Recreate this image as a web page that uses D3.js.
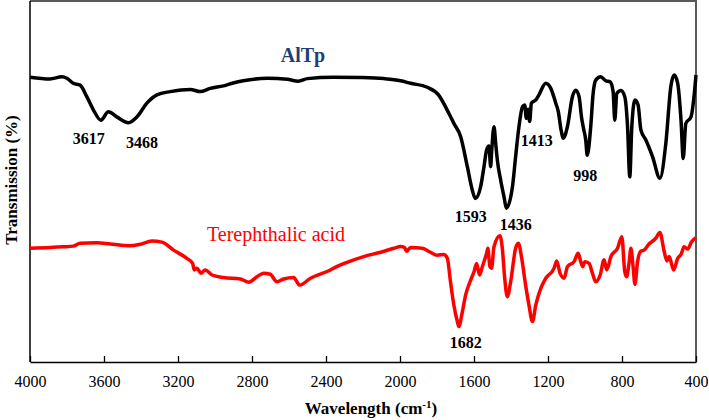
<!DOCTYPE html>
<html>
<head>
<meta charset="utf-8">
<script src="https://cdn.jsdelivr.net/npm/d3@7"></script>
<style>
  body { margin: 0; background: #fff; }
  text { font-family: "Liberation Serif", "Times New Roman", serif; }
</style>
</head>
<body>
<svg width="709" height="420"></svg>
<script>
// IR spectra, wavenumber (cm-1) vs transmission (arbitrary %)
var alWave = [4000,3892,3828,3801,3766,3729,3693,3657,3617,3576,3531,3468,3422,3368,3314,3242,3134,3080,3026,2954,
  2901,2847,2717,2609,2549,2501,2360,2214,2089,1997,1943,1853,1792,1736,1709,1672,1636,1609,1593,1564,
  1546,1532,1519,1510,1505,1492,1483,1474,1456,1438,1425,1392,1375,1357,1338,1326,1317,1308,1299,1290,
  1266,1249,1212,1185,1158,1144,1131,1117,1095,1068,1050,1032,1019,1008,996,988,969,956,942,915,
  888,864,848,839,828,806,785,770,758,747,730,713,698,671,635,595,563,536,518,499,
  481,469,455,427,409,400];
var alTrans = [78.9,78.4,79.0,78.6,77.2,76.7,73.5,69.8,67.0,69.3,67.9,66.3,67.9,71.7,74.0,74.9,75.5,74.9,75.8,76.5,
  77.3,77.9,78.6,78.3,77.8,78.5,78.9,78.8,78.5,77.9,77.2,76.1,74.0,68.9,66.1,62.4,54.1,47.6,45.3,48.6,
  54.1,58.7,59.8,54.1,57.9,65.2,60.7,56.0,50.4,45.8,42.6,48.6,56.9,65.2,70.7,71.2,67.5,70.0,66.6,71.7,
  72.6,74.0,77.2,75.8,71.7,69.3,64.8,62.0,65.2,73.5,75.3,73.5,67.9,64.7,61.5,57.3,65.2,74.4,78.1,79.0,
  77.9,77.6,74.9,67.0,74.4,75.2,73.5,65.2,51.3,65.2,72.6,71.2,64.3,61.5,56.9,50.9,60.6,76.3,79.5,77.2,
  67.0,56.4,66.1,67.9,74.4,79.5];

var taWave = [4000,3892,3820,3766,3729,3639,3567,3459,3405,3341,3287,3224,3152,3121,3112,3098,3076,3053,3016,2954,
  2863,2818,2773,2737,2701,2665,2629,2575,2542,2484,2376,2358,2286,2196,2105,2033,1997,1975,1965,1943,
  1880,1835,1799,1763,1744,1727,1709,1690,1682,1663,1645,1618,1600,1586,1570,1555,1532,1525,1514,1505,
  1492,1460,1447,1434,1420,1402,1375,1360,1342,1321,1303,1284,1266,1239,1212,1167,1153,1135,1113,1095,
  1059,1037,1023,1012,1001,978,960,942,918,897,882,860,824,801,785,775,761,752,741,730,
  716,698,680,659,617,595,572,557,545,521,499,481,464,445,424,400];
var taTrans = [31.5,31.7,31.9,32.1,32.9,33.0,32.7,32.2,32.6,33.5,33.2,31.0,28.7,27.3,25.5,26.0,24.6,25.5,24.1,23.4,
  23.0,22.1,23.6,24.6,24.3,22.2,23.0,23.4,21.3,23.2,25.5,26.0,27.6,29.2,30.4,31.5,32.0,31.7,30.7,31.7,
  31.5,30.4,29.6,29.8,28.7,22.2,15.8,11.2,9.8,13.9,18.6,22.7,25.0,27.3,24.1,26.4,30.1,31.5,26.4,26.0,
  31.9,35.0,31.5,23.2,18.1,22.2,31.5,32.9,28.7,21.3,15.8,11.2,15.8,20.4,23.2,26.0,28.0,24.6,23.2,26.4,
  27.8,30.1,27.8,26.4,27.8,27.3,24.6,22.2,24.1,28.3,25.5,29.2,31.5,34.7,25.0,23.6,27.8,31.5,26.9,21.5,
  27.8,30.7,31.0,32.4,34.3,35.9,30.6,28.0,29.2,25.5,28.7,29.8,31.9,31.3,33.3,34.4];

var xTicks = [4000,3600,3200,2800,2400,2000,1600,1200,800,400];

// peak annotations: label, x in cm-1, y in % (baseline)
var peakLabels = ["3617","3468","1593","1436","1413","998","1682"];
var peakX = [3683,3395,1618,1375,1261,998,1645];
var peakY = [60.3,59.4,38.8,36.6,59.8,50.1,3.9];

var svg = d3.select("svg");
var margin = {left: 30, right: 13, top: 1, bottom: 58};
var W = 709, H = 420;

var x = d3.scaleLinear().domain([4000, 400]).range([margin.left, W - margin.right]);
var y = d3.scaleLinear().domain([0, 100]).range([H - margin.bottom, margin.top]);

var line = d3.line()
  .x(function(d){ return x(d[0]); })
  .y(function(d){ return y(d[1]); })
  .curve(d3.curveMonotoneX);

// frame top/right
svg.append("path")
  .attr("d", "M" + x(4000) + "," + y(100) + "H" + x(400) + "V" + y(0))
  .attr("fill", "none").attr("stroke", "#595959").attr("stroke-width", 2);

// x axis with inward ticks
var xAxis = svg.append("g")
  .attr("transform", "translate(0," + y(0) + ")")
  .call(d3.axisBottom(x).tickValues(xTicks).tickFormat(d3.format("d"))
    .tickSizeInner(-6).tickSizeOuter(0).tickPadding(14));
xAxis.select(".domain").attr("stroke", "#000").attr("stroke-width", 1.5);
xAxis.selectAll(".tick line").attr("stroke", "#000").attr("stroke-width", 1.3);
xAxis.selectAll(".tick text")
  .attr("font-family", "Liberation Serif, Times New Roman, serif")
  .attr("font-size", 16).attr("fill", "#000");

// y axis line only
svg.append("line")
  .attr("x1", x(4000)).attr("x2", x(4000))
  .attr("y1", y(100)).attr("y2", y(0))
  .attr("stroke", "#000").attr("stroke-width", 1.5);

svg.append("path")
  .datum(d3.zip(taWave, taTrans))
  .attr("d", line)
  .attr("fill", "none").attr("stroke", "#ff0000")
  .attr("stroke-width", 3.5).attr("stroke-linejoin", "round");

svg.append("path")
  .datum(d3.zip(alWave, alTrans))
  .attr("d", line)
  .attr("fill", "none").attr("stroke", "#000")
  .attr("stroke-width", 3.5).attr("stroke-linejoin", "round");

// series names
svg.append("text")
  .attr("x", 303).attr("y", 62)
  .attr("text-anchor", "middle")
  .attr("font-size", 20).attr("font-weight", "bold").attr("fill", "#1f3f74")
  .text("AlTp");

svg.append("text")
  .attr("x", 207).attr("y", 241)
  .attr("font-size", 20).attr("fill", "#ff0000")
  .text("Terephthalic acid");

svg.selectAll(".peak")
  .data(peakLabels)
  .enter().append("text")
  .attr("class", "peak")
  .attr("x", function(d, i){ return x(peakX[i]); })
  .attr("y", function(d, i){ return y(peakY[i]); })
  .attr("text-anchor", "middle")
  .attr("font-size", 16).attr("font-weight", "bold").attr("fill", "#000")
  .text(function(d){ return d; });

// axis titles
var xt = svg.append("text")
  .attr("x", 371).attr("y", 414)
  .attr("text-anchor", "middle")
  .attr("font-size", 17).attr("font-weight", "bold");
xt.append("tspan").text("Wavelength (cm");
xt.append("tspan").attr("dy", -6).attr("font-size", 11).text("-1");
xt.append("tspan").attr("dy", 6).text(")");

svg.append("text")
  .attr("transform", "translate(17,180) rotate(-90)")
  .attr("text-anchor", "middle")
  .attr("font-size", 17).attr("font-weight", "bold")
  .text("Transmission (%)");
</script>
</body>
</html>
